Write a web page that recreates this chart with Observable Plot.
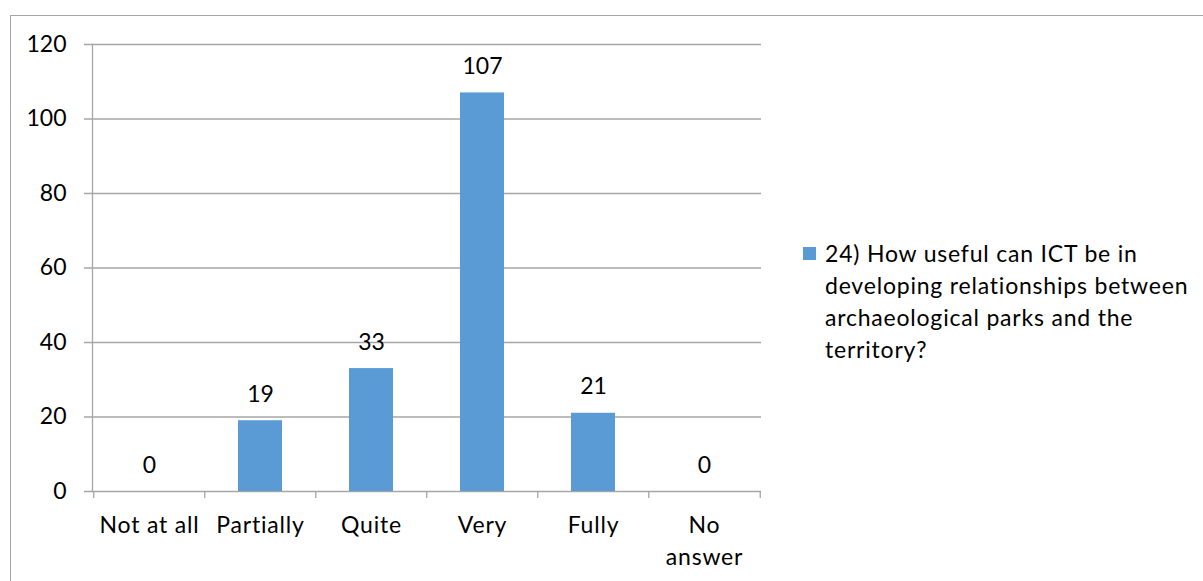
<!DOCTYPE html>
<html>
<head>
<meta charset="utf-8">
<script src="https://cdn.jsdelivr.net/npm/d3@7"></script>
<script src="https://cdn.jsdelivr.net/npm/@observablehq/plot@0.6"></script>
<style>
  html, body { margin: 0; padding: 0; background: #fff; }
  #wrap { position: relative; width: 1203px; height: 581px; overflow: hidden; font-family: Lato, sans-serif; }
  #wrap svg { position: absolute; left: 0; top: 0; }
  #frame { position: absolute; left: 10px; top: 15px; width: 1300px; height: 700px; border: 1.5px solid #a6a6a6; box-sizing: border-box; pointer-events: none; }
  #legend { position: absolute; left: 803px; top: 237px; width: 395px; font-size: 23px; line-height: 32px; letter-spacing: 0.8px; color: #000; }
  #legend .sw { position: absolute; left: 0; top: 10px; width: 13px; height: 13px; background: #5B9BD5; }
  #legend .tx { position: absolute; left: 22px; top: 0; white-space: nowrap; }
</style>
</head>
<body>
<div id="wrap">
  <div id="frame"></div>
</div>
<script>
const categories = ["Not at all", "Partially", "Quite", "Very", "Fully", "No answer"];
const values = [0, 19, 33, 107, 21, 0];
const yTicks = [0, 20, 40, 60, 80, 100, 120];
const seriesName = "24) How useful can ICT be in developing relationships between archaeological parks and the territory?";
const legendLines = ["24) How useful can ICT be in", "developing relationships between", "archaeological parks and the", "territory?"];

const data = categories.map((c, i) => ({cat: c, value: values[i]}));

const W = 1203, H = 581, ML = 92, MR = 442, MT = 44, MB = 90;
const step = (W - ML - MR) / categories.length;
const gray = "#a6a6a6";

const chart = Plot.plot({
  width: W,
  height: H,
  marginLeft: ML,
  marginRight: MR,
  marginTop: MT,
  marginBottom: MB,
  style: {fontFamily: "Lato, sans-serif", fontSize: "23px", color: "#000", background: "transparent"},
  x: {type: "band", domain: categories, paddingInner: 0.6, paddingOuter: 0.3},
  y: {domain: [0, 120]},
  marks: [
    Plot.ruleY(yTicks, {y: d => d, stroke: gray, strokeWidth: 1.3, insetLeft: -8}),
    Plot.frame({anchor: "left", stroke: gray, strokeWidth: 1.3}),
    Plot.barY(data, {x: "cat", y: "value", fill: "#5B9BD5"}),
    Plot.ruleX(categories, {x: d => d, y1: 0, y2: 0, insetBottom: -7, dx: -step / 2, stroke: gray, strokeWidth: 1.3}),
    Plot.ruleX(categories.slice(-1), {x: d => d, y1: 0, y2: 0, insetBottom: -7, dx: step / 2, stroke: gray, strokeWidth: 1.3}),
    Plot.text(data, {x: "cat", y: "value", text: d => String(d.value), dy: -19, lineAnchor: "bottom", fill: "#000", fontSize: 23}),
    Plot.axisY({ticks: yTicks, tickSize: 0, tickPadding: 26, fontSize: 23, fill: "#000", label: null}),
    Plot.axisX({tickSize: 0, tickPadding: 19, fontSize: 23, fill: "#000", label: null, lineHeight: 1.39,
      tickFormat: d => d === "No answer" ? "No\nanswer" : d})
  ]
});

d3.select(chart).selectAll('g[aria-label="x-axis tick label"]').style("letter-spacing", "0.8px");

const wrap = document.getElementById("wrap");
wrap.insertBefore(chart, wrap.firstChild);

const legend = document.createElement("div");
legend.id = "legend";
legend.setAttribute("title", seriesName);
legend.innerHTML = '<div class="sw"></div><div class="tx">' + legendLines.join("<br>") + '</div>';
wrap.appendChild(legend);
</script>
</body>
</html>
